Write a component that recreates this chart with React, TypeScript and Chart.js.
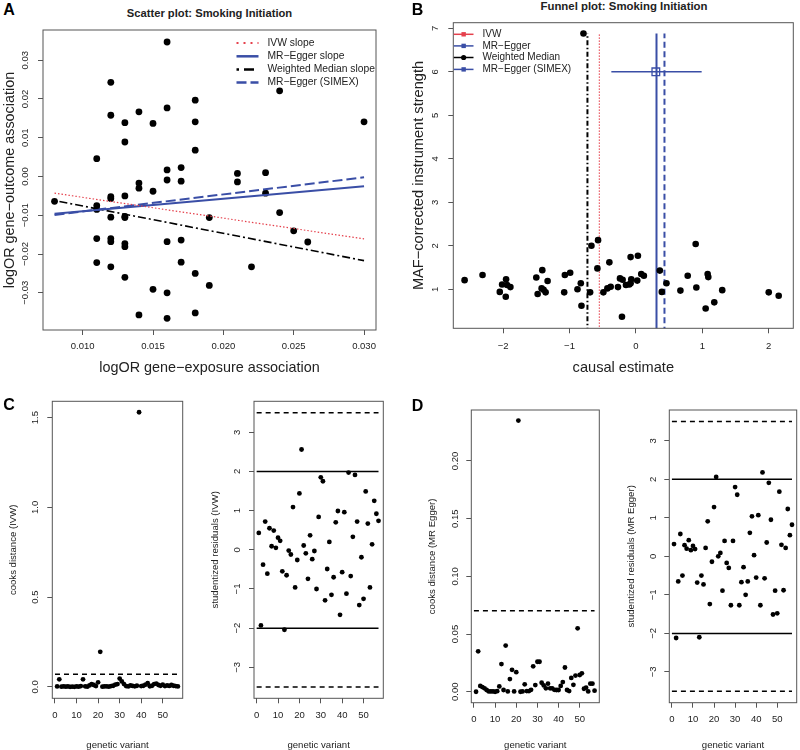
import React, { useEffect, useRef } from "react";
import { Chart, registerables } from "chart.js";

Chart.register(...registerables);

const FONT = "'Liberation Sans', Arial, Helvetica, sans-serif";
const BLUE = "#3a4ea6";
const RED = "#e5404c";
const INK = "#222222";
const BOX = "#555555";

// ---------------- Panel A: scatter plot ----------------
const aExposure = [
  0.008,
  0.011, 0.011, 0.011, 0.011, 0.011,
  0.012, 0.012, 0.012, 0.012, 0.012, 0.012, 0.012, 0.012,
  0.013, 0.013, 0.013, 0.013, 0.013, 0.013, 0.013, 0.013,
  0.014, 0.014, 0.014, 0.014,
  0.015, 0.015, 0.015,
  0.016, 0.016, 0.016, 0.016, 0.016, 0.016, 0.016,
  0.017, 0.017, 0.017, 0.017,
  0.018, 0.018, 0.018, 0.018, 0.018,
  0.019, 0.019,
  0.021, 0.021,
  0.022,
  0.023, 0.023,
  0.024, 0.024,
  0.025,
  0.026,
  0.03,
];
const aOutcome = [
  -0.0064,
  0.0046, -0.0075, -0.0085, -0.016, -0.0222,
  0.0243, 0.0158, -0.0052, -0.0057, -0.0105, -0.016, -0.0168, -0.0233,
  0.0139, 0.0089, -0.005, -0.0103, -0.0106, -0.0173, -0.0181, -0.026,
  0.0167, -0.0017, -0.003, -0.0357,
  0.0137, -0.0038, -0.0291,
  0.0347, 0.0177, 0.0017, -0.0009, -0.0168, -0.03, -0.0366,
  0.0023, -0.0012, -0.0164, -0.0221,
  0.0197, 0.0141, 0.0068, -0.025, -0.0352,
  -0.0106, -0.0281,
  0.0008, -0.0014,
  -0.0233,
  0.001, -0.0043,
  0.0221, -0.0093,
  -0.014,
  -0.0169,
  0.0141,
];
const aSlopeX = [0.008, 0.03];
const aIvwY = [-0.0043, -0.0161];
const aEggerY = [-0.0096, -0.0025];
const aMedianY = [-0.0062, -0.0217];
const aSimexY = [-0.0099, -0.0002];
const aXTicks = [0.01, 0.015, 0.02, 0.025, 0.03];
const aXTickLabels = ["0.010", "0.015", "0.020", "0.025", "0.030"];
const aYTicks = [-0.03, -0.02, -0.01, 0, 0.01, 0.02, 0.03];
const aYTickLabels = ["−0.03", "−0.02", "−0.01", "0.00", "0.01", "0.02", "0.03"];
const aLegendLabels = ["IVW slope", "MR−Egger slope", "Weighted Median slope", "MR−Egger (SIMEX)"];

// ---------------- Panel B: funnel plot ----------------
const bEstimate = [
  -2.58, -2.31, -1.955, -2.015, -1.89, -2.05, -1.96, -1.94, -1.5, -1.41, -1.33, -1.42, -1.48,
  -1.36, -1.39, -1.07, -0.99, -1.08, -0.88, -0.83, -0.82, -0.79, -0.67, -0.57, -0.58, -0.69,
  -0.4, -0.49, -0.43, -0.38, -0.24, -0.21, -0.27, -0.2, -0.08, 0.03, -0.07, -0.15, -0.08,
  -0.1, 0.02, 0.08, 0.12, 0.36, 0.46, 0.39, 0.67, 0.78, 0.9, 0.91, 1.08, 1.09, 1.05, 1.18,
  1.3, 2.0, 2.15,
];
const bStrength = [
  1.21, 1.33, 1.23, 1.11, 1.05, 0.94, 0.83, 1.1, 1.27, 1.44, 1.19, 1.02, 0.89,
  0.93, 0.99, 1.33, 1.38, 0.93, 1.0, 1.14, 0.62, 6.88, 2.0, 2.13, 1.48, 0.93,
  1.62, 0.93, 1.02, 1.06, 1.25, 0.37, 1.05, 1.22, 1.74, 1.77, 1.23, 1.1, 1.14,
  1.11, 1.2, 1.35, 1.31, 1.43, 1.14, 0.94, 0.97, 1.31, 2.04, 1.04, 1.35, 1.28, 0.56, 0.7,
  0.98, 0.93, 0.85,
];
const bMethodEstimates = [-0.55, 0.31, -0.73, 0.43]; // IVW, MR-Egger, Weighted Median, SIMEX
const bLineSpan = [0, 6.88];
const bEggerCI = [-0.37, 0.99];
const bEggerPoint = [0.3, 6.0];
const bXTicks = [-2, -1, 0, 1, 2];
const bXTickLabels = ["−2", "−1", "0", "1", "2"];
const bYTicks = [1, 2, 3, 4, 5, 6, 7];
const bYTickLabels = ["1", "2", "3", "4", "5", "6", "7"];
const bLegendLabels = ["IVW", "MR−Egger", "Weighted Median", "MR−Egger (SIMEX)"];

// ---------------- Panels C & D: diagnostics ----------------
const variantIndex = [
  1, 2, 3, 4, 5, 6, 7, 8, 9, 10, 11, 12, 13, 14, 15, 16, 17, 18, 19, 20,
  21, 22, 23, 24, 25, 26, 27, 28, 29, 30, 31, 32, 33, 34, 35, 36, 37, 38, 39, 40,
  41, 42, 43, 44, 45, 46, 47, 48, 49, 50, 51, 52, 53, 54, 55, 56, 57,
];
const cooksIvw = [
  0.002, 0.042, 0.001, 0.003, 0.001, 0.002, 0.0, 0.001, 0.0, 0.002,
  0.001, 0.004, 0.042, 0.003, 0.001, 0.008, 0.015, 0.01, 0.004, 0.025,
  0.195, 0.001, 0.002, 0.003, 0.001, 0.004, 0.006, 0.012, 0.015, 0.046,
  0.03, 0.015, 0.004, 0.002, 0.008, 0.005, 0.003, 0.006, 1.53, 0.004,
  0.006, 0.012, 0.02, 0.003, 0.006, 0.015, 0.018, 0.01, 0.006, 0.012,
  0.004, 0.008, 0.005, 0.01, 0.006, 0.004, 0.002,
];
const residIvw = [
  0.43, -1.93, -0.38, 0.72, -0.61, 0.55, 0.09, 0.49, 0.05, 0.31,
  0.23, -0.55, -2.04, -0.65, -0.02, -0.12, 1.09, -0.96, -0.26, 1.44,
  2.56, 0.11, -0.09, -0.74, 0.37, -0.24, -0.03, -1.0, 0.84, 1.85,
  1.75, -1.29, -0.49, 0.2, -1.15, -0.7, 0.7, 0.99, -1.66, -0.57,
  0.96, -1.12, 1.97, -0.67, 0.33, 1.91, 0.72, -1.41, -0.19, -1.25,
  1.49, 0.67, -0.96, 0.14, 1.25, 0.92, 0.74,
];
const cooksEgger = [
  0.0, 0.035, 0.005, 0.004, 0.003, 0.0015, 0.0003, 0.0003, 0.0003, 0.0,
  0.0005, 0.0046, 0.024, 0.0015, 0.04, 0.0003, 0.011, 0.019, 0.0003, 0.017,
  0.235, 0.0, 0.0003, 0.0064, 0.0006, 0.0006, 0.0017, 0.022, 0.0058, 0.026,
  0.026, 0.0078, 0.0055, 0.003, 0.007, 0.003, 0.003, 0.0017, 0.0015, 0.0015,
  0.005, 0.0084, 0.021, 0.0015, 0.0006, 0.012, 0.006, 0.014, 0.055, 0.0145,
  0.016, 0.0026, 0.0035, 0.0003, 0.007, 0.007, 0.0009,
];
const residEgger = [
  0.32, -2.12, -0.65, 0.58, -0.5, 0.29, 0.2, 0.42, 0.16, 0.27,
  0.19, -0.68, -2.1, -0.5, -0.73, 0.22, 0.91, -1.24, -0.14, 1.28,
  2.06, 0.0, 0.09, -0.89, 0.4, -0.17, -0.3, -1.27, 0.4, 1.8,
  1.6, -1.27, -0.67, -0.28, -1.0, -0.65, 0.61, 1.04, 0.03, -0.55,
  1.07, -1.27, 2.18, -0.57, 0.36, 1.91, 0.95, -1.51, -0.89, -1.48,
  1.68, 0.3, -0.88, 0.22, 1.23, 0.55, 0.82,
];
const refLineX = [0, 57];
const cooksThreshold = 0.0702;
const residSolid = [-2, 2];
const residDashed = [-3.5, 3.5];
const variantTicks = [0, 10, 20, 30, 40, 50];
const variantTickLabels = ["0", "10", "20", "30", "40", "50"];
const cooksIvwTicks = [0, 0.5, 1, 1.5];
const cooksIvwTickLabels = ["0.0", "0.5", "1.0", "1.5"];
const cooksEggerTicks = [0, 0.05, 0.1, 0.15, 0.2];
const cooksEggerTickLabels = ["0.00", "0.05", "0.10", "0.15", "0.20"];
const residTicks = [-3, -2, -1, 0, 1, 2, 3];
const residTickLabels = ["−3", "−2", "−1", "0", "1", "2", "3"];

// ---------------- helpers ----------------
const pairs = (xs: number[], ys: number[]) => xs.map((x, i) => ({ x, y: ys[i] }));

const pointSet = (data: any[], r: number) => ({
  data,
  showLine: false,
  pointRadius: r,
  pointHoverRadius: r,
  pointBackgroundColor: "#000",
  pointBorderWidth: 0,
  order: 1,
});

const lineSet = (data: any[], color: string, width: number, dash: number[], order = 0) => ({
  data,
  showLine: true,
  fill: false,
  borderColor: color,
  borderWidth: width,
  borderDash: dash,
  pointRadius: 0,
  pointHoverRadius: 0,
  tension: 0,
  order,
});

const boxPlugin = {
  id: "rBox",
  afterDraw(chart: any) {
    const { left, top, right, bottom } = chart.chartArea;
    const ctx = chart.ctx;
    ctx.save();
    ctx.strokeStyle = BOX;
    ctx.lineWidth = 1;
    ctx.setLineDash([]);
    ctx.strokeRect(left, top, right - left, bottom - top);
    ctx.restore();
  },
};

function yLabelPlugin(values: number[], labels: string[], centerX: number, originX: number, size: number) {
  return {
    id: "rYLabels",
    afterDraw(chart: any) {
      const s = chart.scales.y;
      const ctx = chart.ctx;
      ctx.save();
      ctx.fillStyle = INK;
      ctx.font = `${size}px ${FONT}`;
      ctx.textAlign = "center";
      ctx.textBaseline = "middle";
      values.forEach((v, i) => {
        const y = s.getPixelForValue(v);
        ctx.save();
        ctx.translate(centerX - originX, y);
        ctx.rotate(-Math.PI / 2);
        ctx.fillText(labels[i], 0, 0);
        ctx.restore();
      });
      ctx.restore();
    },
  };
}

type LegendEntry = { label: string; color: string; width: number; dash: number[]; marker?: string };

function legendPlugin(
  origin: { x: number; y: number },
  entries: LegendEntry[],
  lineX: number[],
  textX: number,
  rowsY: number[],
  fontSize: number
) {
  return {
    id: "rLegend",
    afterDraw(chart: any) {
      const ctx = chart.ctx;
      ctx.save();
      entries.forEach((e, i) => {
        const y = rowsY[i] - origin.y;
        const x0 = lineX[0] - origin.x;
        const x1 = lineX[1] - origin.x;
        ctx.strokeStyle = e.color;
        ctx.lineWidth = e.width;
        ctx.setLineDash(e.dash);
        ctx.beginPath();
        ctx.moveTo(x0, y);
        ctx.lineTo(x1, y);
        ctx.stroke();
        ctx.setLineDash([]);
        const mx = (x0 + x1) / 2;
        if (e.marker === "square") {
          ctx.fillStyle = e.color;
          ctx.fillRect(mx - 2.2, y - 2.2, 4.4, 4.4);
        } else if (e.marker === "circle") {
          ctx.fillStyle = e.color;
          ctx.beginPath();
          ctx.arc(mx, y, 2.6, 0, Math.PI * 2);
          ctx.fill();
        }
        ctx.fillStyle = INK;
        ctx.font = `${fontSize}px ${FONT}`;
        ctx.textAlign = "left";
        ctx.textBaseline = "middle";
        ctx.fillText(e.label, textX - origin.x, y);
      });
      ctx.restore();
    },
  };
}

interface Spec {
  canvas: { x: number; y: number; w: number; h: number };
  box: { l: number; t: number; r: number; b: number };
  xRange: number[];
  yRange: number[];
  xTicks: number[];
  xTickLabels: string[];
  yTicks: number[];
  yTickLabels: string[];
  tickSize: number;
  xTickCenterY: number;
  yTickCenterX: number;
  xTitle: string;
  yTitle: string;
  titleSize: number;
  xTitleCenterY: number;
  yTitleCenterX: number;
  datasets: any[];
  plugins?: any[];
}

function buildConfig(s: Spec) {
  const c = s.canvas;
  const b = s.box;
  const tickLen = 5;
  const yWidth = b.l - c.x;
  const xHeight = c.y + c.h - b.b;
  const xTickPad = s.xTickCenterY - b.b - tickLen - s.tickSize / 2;
  const xTitlePad = c.y + c.h - s.xTitleCenterY - s.titleSize / 2;
  const yTitlePad = s.yTitleCenterX - c.x - s.titleSize / 2;
  const grid = { drawOnChartArea: false, drawTicks: true, tickLength: tickLen, color: BOX, lineWidth: 1 };
  return {
    type: "scatter",
    data: { datasets: s.datasets },
    options: {
      responsive: false,
      maintainAspectRatio: false,
      animation: false,
      events: [],
      layout: { padding: { left: 0, bottom: 0, top: b.t - c.y, right: c.x + c.w - b.r } },
      plugins: { legend: { display: false }, tooltip: { enabled: false }, title: { display: false } },
      scales: {
        x: {
          type: "linear",
          position: "bottom",
          bounds: "data",
          min: s.xRange[0],
          max: s.xRange[1],
          afterBuildTicks: (sc: any) => {
            sc.ticks = s.xTicks.map((v) => ({ value: v }));
          },
          afterFit: (sc: any) => {
            sc.height = xHeight;
          },
          ticks: {
            autoSkip: false,
            maxRotation: 0,
            minRotation: 0,
            padding: xTickPad,
            color: INK,
            font: { family: FONT, size: s.tickSize, lineHeight: 1 },
            callback: (_v: any, i: number) => s.xTickLabels[i],
          },
          grid,
          border: { display: false },
          title: {
            display: true,
            text: s.xTitle,
            color: INK,
            font: { family: FONT, size: s.titleSize, lineHeight: 1 },
            padding: { top: xTitlePad, bottom: 0 },
          },
        },
        y: {
          type: "linear",
          position: "left",
          bounds: "data",
          min: s.yRange[0],
          max: s.yRange[1],
          afterBuildTicks: (sc: any) => {
            sc.ticks = s.yTicks.map((v) => ({ value: v }));
          },
          afterFit: (sc: any) => {
            sc.width = yWidth;
          },
          ticks: { display: false },
          grid,
          border: { display: false },
          title: {
            display: true,
            text: s.yTitle,
            color: INK,
            font: { family: FONT, size: s.titleSize, lineHeight: 1 },
            padding: { top: yTitlePad, bottom: 0 },
          },
        },
      },
    },
    plugins: [boxPlugin, yLabelPlugin(s.yTicks, s.yTickLabels, s.yTickCenterX, c.x, s.tickSize), ...(s.plugins || [])],
  };
}

function PlotCanvas({ spec }: { spec: Spec }) {
  const ref = useRef<HTMLCanvasElement | null>(null);
  useEffect(() => {
    if (!ref.current) return;
    const chart = new Chart(ref.current, buildConfig(spec) as any);
    return () => chart.destroy();
  }, []);
  const c = spec.canvas;
  return (
    <canvas
      ref={ref}
      width={c.w}
      height={c.h}
      style={{ position: "absolute", left: c.x, top: c.y, width: c.w, height: c.h }}
    />
  );
}

// ---------------- specs ----------------
const specA: Spec = {
  canvas: { x: 0, y: 20, w: 398, h: 355 },
  box: { l: 43, t: 30, r: 376, b: 330 },
  xRange: [0.00718, 0.03085],
  yRange: [-0.0396, 0.0378],
  xTicks: aXTicks,
  xTickLabels: aXTickLabels,
  yTicks: aYTicks,
  yTickLabels: aYTickLabels,
  tickSize: 9.5,
  xTickCenterY: 346.7,
  yTickCenterX: 25.5,
  xTitle: "logOR gene−exposure association",
  yTitle: "logOR gene−outcome association",
  titleSize: 14.4,
  xTitleCenterY: 362.7,
  yTitleCenterX: 10.3,
  datasets: [
    lineSet(pairs(aSlopeX, aIvwY), RED, 1.2, [1.5, 2]),
    lineSet(pairs(aSlopeX, aEggerY), BLUE, 2, []),
    lineSet(pairs(aSlopeX, aMedianY), "#000", 1.6, [2, 3, 8, 3]),
    lineSet(pairs(aSlopeX, aSimexY), BLUE, 2, [10, 4]),
    pointSet(pairs(aExposure, aOutcome), 3.4),
  ],
  plugins: [
    legendPlugin(
      { x: 0, y: 20 },
      [
        { label: aLegendLabels[0], color: RED, width: 2, dash: [2, 5] },
        { label: aLegendLabels[1], color: BLUE, width: 2.5, dash: [] },
        { label: aLegendLabels[2], color: "#000", width: 2.5, dash: [2.5, 5, 10, 5] },
        { label: aLegendLabels[3], color: BLUE, width: 2.5, dash: [10, 4] },
      ],
      [236.5, 258.5],
      267.5,
      [43, 56.3, 69.5, 82.5],
      10.3
    ),
  ],
};

const specB: Spec = {
  canvas: { x: 400, y: 15, w: 400, h: 360 },
  box: { l: 453.3, t: 22.7, r: 795, b: 328.3 },
  xRange: [-2.75, 2.37],
  yRange: [0.103, 7.13],
  xTicks: bXTicks,
  xTickLabels: bXTickLabels,
  yTicks: bYTicks,
  yTickLabels: bYTickLabels,
  tickSize: 9.5,
  xTickCenterY: 346,
  yTickCenterX: 435,
  xTitle: "causal estimate",
  yTitle: "MAF−corrected instrument strength",
  titleSize: 14.6,
  xTitleCenterY: 365.7,
  yTitleCenterX: 419.2,
  datasets: [
    lineSet(pairs([bMethodEstimates[2], bMethodEstimates[2]], bLineSpan), "#000", 2, [5, 2.5, 1.5, 2.5], 2),
    lineSet(pairs([bMethodEstimates[0], bMethodEstimates[0]], bLineSpan), RED, 1.3, [1.2, 1.8], 2),
    lineSet(pairs([bMethodEstimates[1], bMethodEstimates[1]], bLineSpan), BLUE, 2, [], 2),
    lineSet(pairs([bMethodEstimates[3], bMethodEstimates[3]], bLineSpan), BLUE, 2, [6, 3.5], 2),
    lineSet(pairs(bEggerCI, [bEggerPoint[1], bEggerPoint[1]]), BLUE, 1.5, [], 2),
    {
      data: [{ x: bEggerPoint[0], y: bEggerPoint[1] }],
      showLine: false,
      pointStyle: "rect",
      pointRadius: 5.4,
      pointHoverRadius: 5.4,
      pointBackgroundColor: "rgba(0,0,0,0)",
      pointBorderColor: BLUE,
      pointBorderWidth: 1.3,
      order: 1,
    },
    { ...pointSet(pairs(bEstimate, bStrength), 3.3), order: 0 },
  ],
  plugins: [
    legendPlugin(
      { x: 400, y: 15 },
      [
        { label: bLegendLabels[0], color: RED, width: 1.5, dash: [], marker: "square" },
        { label: bLegendLabels[1], color: BLUE, width: 1.5, dash: [], marker: "square" },
        { label: bLegendLabels[2], color: "#000", width: 1.5, dash: [], marker: "circle" },
        { label: bLegendLabels[3], color: BLUE, width: 1.5, dash: [], marker: "square" },
      ],
      [453.8, 473.5],
      482.5,
      [34.3, 45.9, 57.5, 69.4],
      10
    ),
  ],
};

const diagBase = {
  xRange: [-1.24, 59.24],
  xTicks: variantTicks,
  xTickLabels: variantTickLabels,
  tickSize: 9.5,
  xTitle: "genetic variant",
  titleSize: 9.6,
};

const specCL: Spec = {
  ...diagBase,
  canvas: { x: 0, y: 395, w: 200, h: 355 },
  box: { l: 52.3, t: 401.3, r: 182.7, b: 698.3 },
  yRange: [-0.064, 1.591],
  yTicks: cooksIvwTicks,
  yTickLabels: cooksIvwTickLabels,
  xTickCenterY: 715,
  yTickCenterX: 35,
  yTitle: "cooks distance (IVW)",
  xTitleCenterY: 739,
  yTitleCenterX: 13.3,
  datasets: [
    lineSet(pairs(refLineX, [cooksThreshold, cooksThreshold]), "#000", 1.5, [5, 4]),
    pointSet(pairs(variantIndex, cooksIvw), 2.4),
  ],
};

const specCR: Spec = {
  ...diagBase,
  canvas: { x: 195, y: 395, w: 205, h: 355 },
  box: { l: 254, t: 401.3, r: 383.3, b: 698.3 },
  yRange: [-3.79, 3.79],
  yTicks: residTicks,
  yTickLabels: residTickLabels,
  xTickCenterY: 715,
  yTickCenterX: 237.6,
  yTitle: "studentized residuals (IVW)",
  xTitleCenterY: 739,
  yTitleCenterX: 215.5,
  datasets: [
    lineSet(pairs(refLineX, [residDashed[1], residDashed[1]]), "#000", 1.5, [5, 4]),
    lineSet(pairs(refLineX, [residDashed[0], residDashed[0]]), "#000", 1.5, [5, 4]),
    lineSet(pairs(refLineX, [residSolid[1], residSolid[1]]), "#000", 1.5, []),
    lineSet(pairs(refLineX, [residSolid[0], residSolid[0]]), "#000", 1.5, []),
    pointSet(pairs(variantIndex, residIvw), 2.4),
  ],
};

const specDL: Spec = {
  ...diagBase,
  canvas: { x: 400, y: 395, w: 210, h: 355 },
  box: { l: 471.3, t: 410, r: 599.3, b: 702.7 },
  yRange: [-0.0095, 0.2442],
  yTicks: cooksEggerTicks,
  yTickLabels: cooksEggerTickLabels,
  xTickCenterY: 719.3,
  yTickCenterX: 455.5,
  yTitle: "cooks distance (MR Egger)",
  xTitleCenterY: 742,
  yTitleCenterX: 432,
  datasets: [
    lineSet(pairs(refLineX, [cooksThreshold, cooksThreshold]), "#000", 1.5, [5, 4]),
    pointSet(pairs(variantIndex, cooksEgger), 2.4),
  ],
};

const specDR: Spec = {
  ...diagBase,
  canvas: { x: 605, y: 395, w: 195, h: 355 },
  box: { l: 669.3, t: 410, r: 796.7, b: 702.7 },
  yRange: [-3.8, 3.8],
  yTicks: residTicks,
  yTickLabels: residTickLabels,
  xTickCenterY: 719.3,
  yTickCenterX: 653.6,
  yTitle: "studentized residuals (MR Egger)",
  xTitleCenterY: 742,
  yTitleCenterX: 631,
  datasets: [
    lineSet(pairs(refLineX, [residDashed[1], residDashed[1]]), "#000", 1.5, [5, 4]),
    lineSet(pairs(refLineX, [residDashed[0], residDashed[0]]), "#000", 1.5, [5, 4]),
    lineSet(pairs(refLineX, [residSolid[1], residSolid[1]]), "#000", 1.5, []),
    lineSet(pairs(refLineX, [residSolid[0], residSolid[0]]), "#000", 1.5, []),
    pointSet(pairs(variantIndex, residEgger), 2.4),
  ],
};

const letterStyle = (left: number, top: number): React.CSSProperties => ({
  position: "absolute",
  left,
  top,
  font: `bold 16px ${FONT}`,
  lineHeight: "16px",
  color: "#000",
});

const titleStyle = (cx: number, cy: number, size: number): React.CSSProperties => ({
  position: "absolute",
  left: cx,
  top: cy,
  transform: "translate(-50%, -50%)",
  font: `bold ${size}px ${FONT}`,
  lineHeight: `${size}px`,
  whiteSpace: "nowrap",
  color: INK,
});

export default function App() {
  return (
    <div
      style={{
        position: "absolute",
        left: 0,
        top: 0,
        width: 800,
        height: 750,
        background: "#fff",
        overflow: "hidden",
      }}
    >
      <PlotCanvas spec={specA} />
      <PlotCanvas spec={specB} />
      <PlotCanvas spec={specCL} />
      <PlotCanvas spec={specCR} />
      <PlotCanvas spec={specDL} />
      <PlotCanvas spec={specDR} />
      <div style={titleStyle(209.5, 14, 11.2)}>Scatter plot: Smoking Initiation</div>
      <div style={titleStyle(624, 7, 11.4)}>Funnel plot: Smoking Initiation</div>
      <div style={letterStyle(3.3, 1.5)}>A</div>
      <div style={letterStyle(411.7, 1.5)}>B</div>
      <div style={letterStyle(3.3, 397.2)}>C</div>
      <div style={letterStyle(411.7, 398.2)}>D</div>
    </div>
  );
}
